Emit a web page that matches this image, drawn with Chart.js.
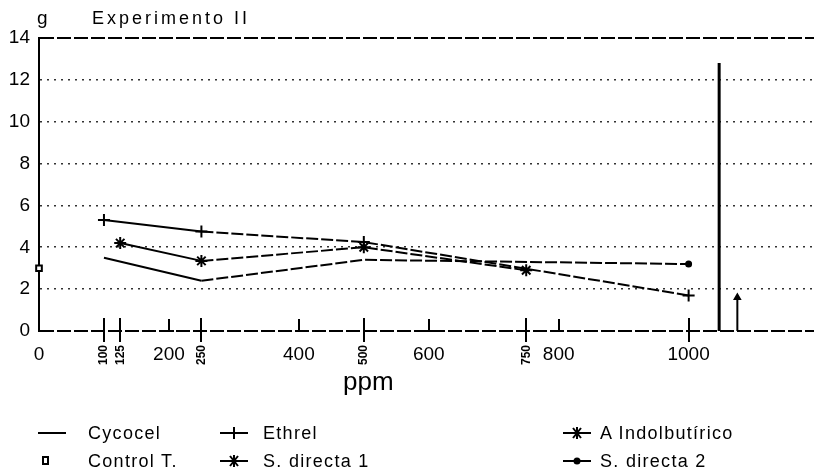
<!DOCTYPE html>
<html><head><meta charset="utf-8">
<script src="https://cdn.jsdelivr.net/npm/chart.js@4/dist/chart.umd.min.js"></script>
<style>
html,body{margin:0;padding:0;background:#fff;overflow:hidden;}
#wrap{position:relative;width:814px;height:473px;overflow:hidden;font-family:"Liberation Sans",Arial,sans-serif;color:#000;}
canvas{position:absolute;left:0;top:0;}
.t{position:absolute;white-space:nowrap;line-height:1;}
.li{position:absolute;white-space:nowrap;line-height:1;font-size:18px;letter-spacing:1.3px;}
.ls{position:absolute;}
</style></head><body>
<div id="wrap">
<canvas id="c" width="814" height="473"></canvas>
<div class="t" style="left:37px;top:8px;font-size:19px;">g</div>
<div class="t" style="left:92px;top:9px;font-size:18px;letter-spacing:3px;">Experimento II</div>
<div class="t" style="left:343px;top:368px;font-size:26px;">ppm</div>
<div id="legend"></div>
</div>
<script>
// ---- data ----
const seriesNames = ["Cycocel","Ethrel","A Indolbutírico","Control T.","S. directa 1","S. directa 2"];
const cycocelX = [100,250,500,1000];
const cycocelY = [3.5,2.4,3.4,3.2];
const ethrelX = [100,250,500,1000];
const ethrelY = [5.3,4.75,4.25,1.7];
const indolX = [125,250,500,750];
const indolY = [4.2,3.35,4.0,2.9];
const controlX = [0];
const controlY = [3.0];
const directa1X = [1047,1047];
const directa1Y = [0,12.8];
const directa2X = [1075,1075];
const directa2Y = [0,1.6];
const xTickLabels = [0,200,400,600,800,1000];
const xDoseTicks = [100,125,250,500,750,1000];
const xMinorTicks = [200,400,600,800];
const xDoseLabels = [100,125,250,500,750];
const yTicks = [0,2,4,6,8,10,12,14];

const FAM = '"Liberation Sans", Arial, sans-serif';
const pts = (xs, ys) => xs.map((x,i)=>({x, y: ys[i]}));
const dashAfter = s => (s.p0.parsed.x >= 250 ? [12,3] : undefined);

const marksPlugin = {
  id:'marks',
  afterDatasetsDraw(chart){
    const {ctx, scales:{x, y}} = chart;
    const y0 = y.getPixelForValue(0);
    ctx.save();
    ctx.strokeStyle = '#000';
    ctx.lineWidth = 2;
    xDoseTicks.forEach(v=>{
      const px = Math.round(x.getPixelForValue(v));
      ctx.beginPath(); ctx.moveTo(px, y0-13); ctx.lineTo(px, y0+11); ctx.stroke();
    });
    xMinorTicks.forEach(v=>{
      const px = Math.round(x.getPixelForValue(v));
      ctx.beginPath(); ctx.moveTo(px, y0-12); ctx.lineTo(px, y0); ctx.lineTo(px+5, y0); ctx.stroke();
    });
    ctx.fillStyle = '#000';
    // main x tick labels
    ctx.font = '19px ' + FAM;
    ctx.textAlign = 'center';
    ctx.textBaseline = 'top';
    xTickLabels.forEach(v=>{
      ctx.fillText(String(v), x.getPixelForValue(v), y0 + 14);
    });
    // rotated dose labels
    ctx.font = 'bold 12px ' + FAM;
    ctx.textBaseline = 'middle';
    xDoseLabels.forEach(v=>{
      const px = x.getPixelForValue(v);
      ctx.save();
      ctx.translate(px, y0 + 24);
      ctx.rotate(-Math.PI/2);
      ctx.fillText(String(v), 0, 0);
      ctx.restore();
    });
    ctx.restore();
  }
};

new Chart(document.getElementById('c'), {
  type:'scatter',
  data:{datasets:[
    {label:seriesNames[0], data:pts(cycocelX,cycocelY), showLine:true, borderColor:'#000', borderWidth:2,
     pointRadius:[0,0,0,2.5], pointBackgroundColor:'#000', pointBorderColor:'#000', clip:false,
     segment:{borderDash:dashAfter}},
    {label:seriesNames[1], data:pts(ethrelX,ethrelY), showLine:true, borderColor:'#000', borderWidth:2,
     pointStyle:'cross', pointRadius:6, pointBorderWidth:2, pointBorderColor:'#000', clip:false,
     segment:{borderDash:dashAfter}},
    {label:seriesNames[2], data:pts(indolX,indolY), showLine:true, borderColor:'#000', borderWidth:2,
     pointStyle:'star', pointRadius:6, pointBorderWidth:2, pointBorderColor:'#000', clip:false,
     segment:{borderDash:dashAfter}},
    {label:seriesNames[3], data:pts(controlX,controlY), showLine:false,
     pointStyle:'rect', pointRadius:4, pointBorderWidth:2, pointBorderColor:'#000', pointBackgroundColor:'#fff', clip:false},
    {label:seriesNames[4], data:pts(directa1X,directa1Y), showLine:true, borderColor:'#000', borderWidth:3,
     pointRadius:0, clip:false},
    {label:seriesNames[5], data:pts(directa2X,directa2Y), showLine:true, borderColor:'#000', borderWidth:2,
     pointStyle:'triangle', pointRadius:[0,3], pointBackgroundColor:'#000', pointBorderColor:'#000', clip:false}
  ]},
  options:{
    responsive:false, animation:false, events:[],
    layout:{autoPadding:false, padding:{top:38,right:0,bottom:0,left:0}},
    plugins:{legend:{display:false}, tooltip:{enabled:false}, title:{display:false}},
    scales:{
      x:{type:'linear', min:0, max:1193,
        afterFit(s){ s.height = 142; },
        ticks:{display:false},
        grid:{display:false}, border:{display:false}},
      y:{type:'linear', min:0, max:14,
        afterFit(s){ s.width = 39; },
        afterBuildTicks(s){ s.ticks = yTicks.map(v=>({value:v})); },
        ticks:{color:'#000', padding:9, font:{size:19, family:FAM}},
        grid:{drawTicks:false,
          color:c => (c.tick && (c.tick.value===0 || c.tick.value===14)) ? '#000' : '#333',
          lineWidth:c => (c.tick && (c.tick.value===0 || c.tick.value===14)) ? 2 : 1.6},
        border:{display:true, color:'#000', width:2,
          dash:c => (c.tick ? ((c.tick.value===0 || c.tick.value===14) ? [14,3] : [2,5]) : [])}}
    }
  },
  plugins:[marksPlugin]
});

// ---- HTML legend ----
const legendRows = [[0,1,2],[3,4,5]];
const legendSymbols = ['line','cross','star','rect','star','diamond'];
const colSample = [38, 220, 563];
const colText = [88, 263, 600];
const rowY = [433, 461];
function sampleSVG(kind){
  let s = '<svg width="28" height="16" viewBox="0 0 28 16">';
  if (kind !== 'rect') s += '<line x1="0" y1="8" x2="28" y2="8" stroke="#000" stroke-width="2"/>';
  if (kind === 'cross') s += '<line x1="14" y1="2" x2="14" y2="14" stroke="#000" stroke-width="2"/>';
  if (kind === 'star') s += '<path d="M10 3 L18 13 M18 3 L10 13 M14 2 L14 14" stroke="#000" stroke-width="2"/>';
  if (kind === 'diamond') s += '<circle cx="14" cy="8" r="3.5" fill="#000"/>';
  if (kind === 'rect') s += '<rect x="5" y="4" width="5" height="7" fill="#fff" stroke="#000" stroke-width="2"/>';
  return s + '</svg>';
}
const leg = document.getElementById('legend');
legendRows.forEach((row, r)=>{
  row.forEach((si, c)=>{
    const sv = document.createElement('div');
    sv.className = 'ls';
    sv.style.left = colSample[c] + 'px';
    sv.style.top = (rowY[r]-8) + 'px';
    sv.innerHTML = sampleSVG(legendSymbols[si]);
    leg.appendChild(sv);
    const tx = document.createElement('div');
    tx.className = 'li';
    tx.style.left = colText[c] + 'px';
    tx.style.top = (rowY[r]-9) + 'px';
    tx.textContent = seriesNames[si];
    leg.appendChild(tx);
  });
});
</script>
</body></html>
